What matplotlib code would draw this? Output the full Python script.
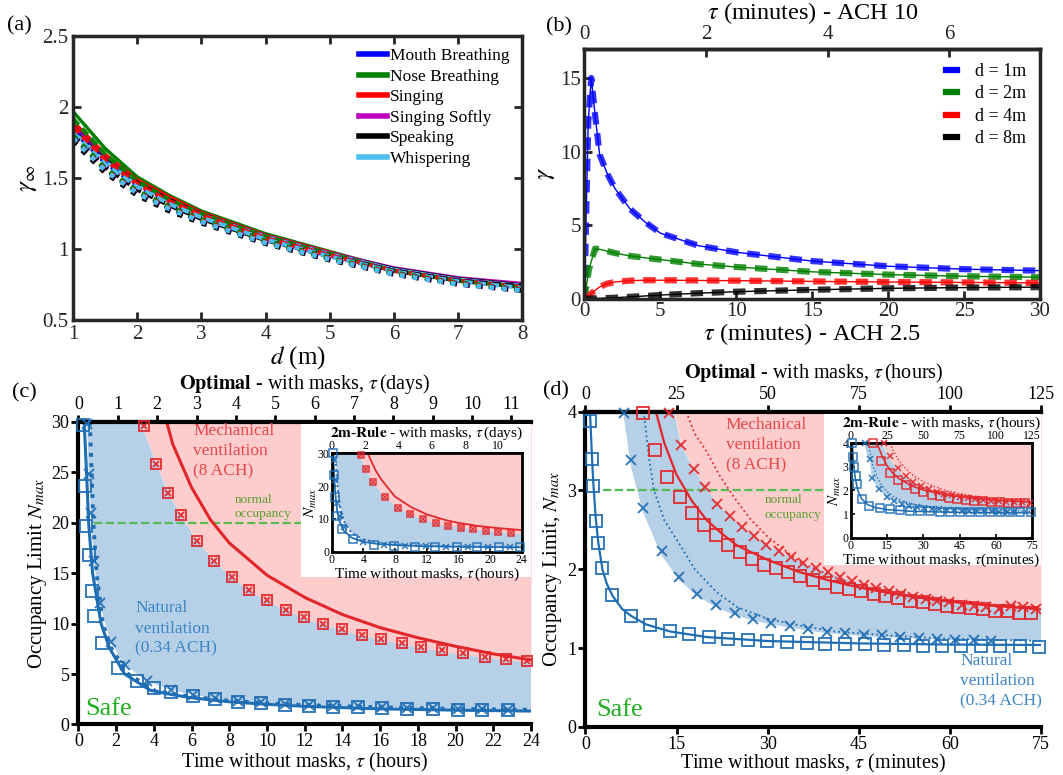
import matplotlib.pyplot as plt
import numpy as np
from matplotlib.lines import Line2D
from matplotlib.patches import Rectangle
from matplotlib.ticker import FormatStrFormatter

plt.rcParams['font.family'] = 'serif'
plt.rcParams['font.serif'] = ['Liberation Serif', 'DejaVu Serif']
plt.rcParams['mathtext.fontset'] = 'stix'

# ---------------- (a) gamma_inf vs distance
dist_m = [1, 1.5, 2, 2.5, 3, 4, 5, 6, 7, 8]
activities = ['Mouth Breathing', 'Nose Breathing', 'Singing', 'Singing Softly', 'Speaking', 'Whispering']
act_colors = ['#0000ff', '#008000', '#ff0000', '#bf00bf', '#000000', '#4dbeee']
mouth_solid = [1.87, 1.65, 1.48, 1.36, 1.26, 1.10, 0.975, 0.865, 0.795, 0.755]
mouth_dash = [1.84, 1.61, 1.45, 1.33, 1.23, 1.075, 0.955, 0.85, 0.78, 0.735]
mouth_dot = [1.79, 1.565, 1.405, 1.29, 1.20, 1.05, 0.935, 0.83, 0.76, 0.715]
nose_solid = [1.97, 1.71, 1.51, 1.38, 1.27, 1.11, 0.985, 0.86, 0.79, 0.745]
nose_dash = [1.92, 1.67, 1.48, 1.35, 1.25, 1.09, 0.97, 0.85, 0.78, 0.735]
nose_dot = [1.80, 1.57, 1.41, 1.30, 1.21, 1.06, 0.94, 0.835, 0.765, 0.72]
sing_solid = [1.90, 1.67, 1.49, 1.37, 1.26, 1.10, 0.98, 0.86, 0.79, 0.75]
sing_dash = [1.86, 1.63, 1.46, 1.34, 1.24, 1.08, 0.96, 0.85, 0.78, 0.735]
sing_dot = [1.78, 1.56, 1.40, 1.29, 1.20, 1.05, 0.935, 0.83, 0.76, 0.715]
soft_solid = [1.85, 1.64, 1.47, 1.35, 1.25, 1.095, 0.975, 0.87, 0.80, 0.76]
soft_dash = [1.81, 1.59, 1.43, 1.31, 1.22, 1.07, 0.955, 0.85, 0.785, 0.74]
soft_dot = [1.76, 1.545, 1.385, 1.275, 1.19, 1.045, 0.93, 0.825, 0.755, 0.71]
speak_solid = [1.84, 1.63, 1.47, 1.35, 1.25, 1.09, 0.97, 0.865, 0.795, 0.75]
speak_dash = [1.80, 1.58, 1.42, 1.31, 1.215, 1.065, 0.95, 0.85, 0.78, 0.74]
speak_dot = [1.76, 1.54, 1.38, 1.27, 1.185, 1.04, 0.925, 0.825, 0.755, 0.71]
whisper_solid = [1.83, 1.62, 1.46, 1.34, 1.245, 1.09, 0.97, 0.86, 0.79, 0.745]
whisper_dash = [1.82, 1.60, 1.44, 1.32, 1.225, 1.07, 0.95, 0.845, 0.775, 0.73]
whisper_dot = [1.78, 1.555, 1.395, 1.285, 1.195, 1.045, 0.93, 0.825, 0.755, 0.71]

# ---------------- (b) gamma vs time
b_labels = ['d = 1m', 'd = 2m', 'd = 4m', 'd = 8m']
b_colors = ['#0000ff', '#008000', '#ff0000', '#000000']
b_t_1m = [0, 0.1, 0.25, 0.45, 0.7, 1, 1.5, 2, 3, 4, 5, 7.5, 10, 15, 20, 25, 30]
b_g_1m = [0, 5, 12, 15.0, 12.5, 9.8, 8.5, 7.5, 6.1, 5.2, 4.45, 3.6, 3.15, 2.55, 2.2, 2.0, 1.9]
b_t_2m = [0, 0.3, 0.7, 1, 2, 3, 5, 7.5, 10, 15, 20, 25, 30]
b_g_2m = [0, 2.0, 3.4, 3.35, 3.1, 2.9, 2.65, 2.35, 2.15, 1.82, 1.63, 1.52, 1.45]
b_t_4m = [0, 0.2, 0.5, 1, 1.5, 2, 3, 4, 5, 10, 15, 20, 25, 30]
b_g_4m = [0, 0.1, 0.4, 0.8, 1.02, 1.13, 1.22, 1.25, 1.25, 1.22, 1.17, 1.13, 1.1, 1.07]
b_t_8m = [0, 1, 2, 3, 5, 7.5, 10, 15, 20, 25, 30]
b_g_8m = [0, 0.02, 0.06, 0.12, 0.24, 0.37, 0.47, 0.6, 0.7, 0.75, 0.78]

# ---------------- (c) occupancy limit, hours
c_red_t = [3.46, 4.09, 4.75, 5.43, 6.29, 7.19, 8.12, 9.05, 10.0, 10.99, 11.98, 12.96, 13.98, 15.02,
           16.06, 17.14, 18.16, 19.29, 20.40, 21.57, 22.68, 23.81]
c_red_n = [29.63, 25.88, 23.0, 20.75, 18.17, 16.22, 14.65, 13.37, 12.3, 11.4, 10.63, 9.96, 9.42, 8.88,
           8.48, 8.04, 7.68, 7.34, 7.04, 6.74, 6.5, 6.27]
c_blue_sq_t = [0.22, 0.33, 0.42, 0.54, 0.7, 0.85, 1.26, 2.1, 3.1, 4.0, 4.9, 6.06, 7.22, 8.48, 9.69,
               10.94, 12.2, 13.5, 14.8, 16.1, 17.4, 18.8, 20.1, 21.4, 22.8]
c_blue_sq_n = [29.7, 23.7, 19.7, 16.8, 13.2, 10.8, 8.1, 5.6, 4.3, 3.6, 3.2, 2.8, 2.5, 2.25, 2.1,
               1.95, 1.85, 1.75, 1.7, 1.62, 1.58, 1.52, 1.47, 1.43, 1.4]
c_blue_x_t = [0.45, 0.55, 0.66, 0.82, 1.12, 1.7, 2.45, 3.65, 4.9, 6.06, 7.22, 8.48, 9.69, 10.94,
              12.2, 13.5, 14.8, 16.1, 17.4, 18.8, 20.1, 21.4, 22.8]
c_blue_x_n = [29.8, 24.8, 21.0, 16.2, 12.0, 8.2, 5.9, 4.3, 3.4, 2.95, 2.6, 2.35, 2.2, 2.0,
              1.9, 1.85, 1.8, 1.7, 1.65, 1.6, 1.55, 1.5, 1.45]
c_red_line_t = [4.68, 5, 6, 7, 8, 10, 12, 14, 16, 18, 20, 22, 24]
c_red_line_n = [30, 27.8, 23.5, 20.3, 18, 14.8, 12.6, 10.9, 9.6, 8.6, 7.75, 7.0, 6.4]
c_blue_line_t = [0.3, 0.43, 0.54, 0.75, 1.2, 1.64, 2.45, 3.8, 5, 6, 8, 10, 12, 16, 20, 24]
c_blue_line_n = [30, 25, 20, 15, 10, 7.6, 5.0, 3.4, 2.95, 2.65, 2.25, 2.0, 1.8, 1.55, 1.42, 1.33]
c_blue_dot_t = [0.6, 0.7, 0.79, 0.96, 1.29, 1.73, 2.63, 4.1, 6, 8, 10, 12, 16, 20, 24]
c_blue_dot_n = [30, 25, 20, 15, 10, 7.6, 5.0, 3.3, 2.75, 2.35, 2.1, 1.92, 1.7, 1.55, 1.45]
c_fill_up_t = [3.3, 4.1, 4.75, 5.5, 6.3, 7.2, 8.1, 9.05, 10, 11, 12, 13, 14, 15, 16, 17, 18, 19,
               20, 21, 22, 23, 24]
c_fill_up_n = [30, 26, 23, 20.5, 18.2, 16.2, 14.6, 13.3, 12.2, 11.3, 10.5, 9.85, 9.3, 8.8, 8.4, 8.0,
               7.6, 7.3, 7.0, 6.75, 6.5, 6.3, 6.1]
c_fill_lo_t = [0.45, 0.55, 0.66, 0.82, 1.12, 1.7, 2.45, 3.65, 4.9, 6.06, 7.22, 8.48, 9.69, 10.94,
               12.2, 14.8, 17.4, 20.1, 22.8, 24]
c_fill_lo_n = [30, 24.8, 21.0, 16.2, 12.0, 8.2, 5.9, 4.3, 3.4, 2.95, 2.6, 2.35, 2.2, 2.05,
               1.95, 1.8, 1.65, 1.55, 1.45, 1.42]

# (c) inset, 2m rule
ci_red_t = [3.66, 4.29, 5.18, 6.73, 8.37, 9.93, 11.49, 13.13, 14.68, 16.29, 17.88, 19.45, 21.04, 22.6]
ci_red_n = [29.5, 25.1, 21.2, 16.6, 13.4, 11.4, 9.9, 8.65, 7.85, 7.3, 6.8, 6.4, 6.0, 5.6]
ci_red_line_t = [4.55, 5.5, 6.3, 8, 10.1, 12, 14.3, 16, 18.5, 21, 24]
ci_red_line_n = [30, 25, 21.9, 16.8, 13.5, 11.4, 9.7, 8.8, 7.85, 7.2, 6.6]
ci_blue_sq_t = [0.13, 0.25, 0.42, 0.63, 1.26, 2.74, 5.35, 7.9, 10.5, 13.1, 15.8, 18.4, 21.1, 23.8]
ci_blue_sq_n = [30, 23.4, 16.6, 11.0, 6.9, 3.76, 2.03, 1.73, 1.53, 1.53, 1.42, 1.42, 1.32, 1.32]
ci_blue_x_t = [0.3, 0.45, 0.7, 1.0, 1.6, 4.0, 6.6, 9.25, 11.9, 14.5, 17.2, 19.8, 22.5]
ci_blue_x_n = [28, 22, 15, 11, 7.5, 2.9, 2.1, 1.8, 1.65, 1.55, 1.5, 1.45, 1.4]
ci_blue_line_t = [0.2, 0.3, 0.45, 0.7, 1.0, 1.5, 2.5, 4, 6, 9, 12, 16, 20, 24]
ci_blue_line_n = [30, 24, 18, 12.5, 9.2, 6.5, 4.3, 3.0, 2.3, 1.9, 1.65, 1.5, 1.4, 1.33]
ci_blue_dot_t = [0.45, 0.6, 0.8, 1.1, 1.6, 2.5, 4, 6, 9, 12, 16, 20, 24]
ci_blue_dot_n = [30, 24, 18, 13, 9, 5.8, 3.7, 2.7, 2.1, 1.85, 1.65, 1.52, 1.45]
ci_fill_up_t = [3.5, 4.3, 5.2, 6.7, 8.4, 9.9, 11.5, 13.1, 14.7, 16.3, 17.9, 19.5, 21, 22.6, 24]
ci_fill_up_n = [30, 25.1, 21.2, 16.6, 13.4, 11.4, 9.9, 8.65, 7.85, 7.3, 6.8, 6.4, 6.0, 5.6, 5.3]
ci_fill_lo_t = [0.5, 0.7, 1.0, 1.6, 2.6, 4.0, 6.6, 9.25, 11.9, 14.5, 17.2, 19.8, 22.5, 24]
ci_fill_lo_n = [30, 20, 14, 9.0, 5.5, 3.6, 2.5, 2.0, 1.8, 1.65, 1.55, 1.5, 1.45, 1.42]

# ---------------- (d) occupancy limit, minutes
d_blue_sq_t = [0.84, 1.12, 1.23, 1.67, 2.06, 2.73, 4.41, 7.53, 10.7, 13.9, 17.1, 20.35, 23.5, 26.7,
               29.9, 33.2, 36.4, 39.5, 42.8, 46.0, 49.2, 52.4, 55.5, 58.7, 61.8, 65.1, 68.3, 71.5, 74.6]
d_blue_sq_n = [3.875, 3.4, 3.06, 2.61, 2.33, 2.01, 1.675, 1.41, 1.29, 1.217, 1.175, 1.14, 1.117, 1.1,
               1.09, 1.075, 1.067, 1.058, 1.05, 1.05, 1.042, 1.042, 1.033, 1.033, 1.033, 1.03, 1.03, 1.03, 1.02]
d_blue_x_t = [6.4, 7.5, 9.52, 12.53, 15.48, 18.4, 21.5, 24.55, 27.6, 30.6, 33.7, 36.7, 39.8, 42.75,
              45.8, 48.8, 51.8, 54.9, 57.8, 60.85, 63.9, 66.7]
d_blue_x_n = [3.98, 3.38, 2.78, 2.23, 1.9, 1.69, 1.55, 1.45, 1.375, 1.32, 1.28, 1.24, 1.21, 1.19,
              1.165, 1.16, 1.14, 1.13, 1.12, 1.105, 1.1, 1.09]
d_red_sq_t = [9.5, 11.5, 13.5, 15.5, 17.5, 19.5, 21.5, 23.4, 25.5, 27.4, 29.4, 31.35, 33.4, 35.4, 37.5,
              39.5, 41.4, 43.4, 45.4, 47.5, 49.4, 51.5, 53.4, 55.5, 57.5, 59.5, 61.4, 63.5, 65.4, 67.4,
              69.5, 71.4, 73.4]
d_red_sq_n = [3.98, 3.51, 3.17, 2.92, 2.72, 2.56, 2.43, 2.31, 2.22, 2.13, 2.06, 2.01, 1.96, 1.91, 1.87,
              1.83, 1.78, 1.75, 1.72, 1.69, 1.66, 1.63, 1.60, 1.58, 1.56, 1.54, 1.52, 1.51, 1.49, 1.475,
              1.47, 1.45, 1.44]
d_red_x_t = [13.7, 15.75, 17.8, 19.75, 21.7, 23.8, 25.8, 27.8, 29.8, 31.8, 33.9, 35.8, 37.9, 39.9, 41.9,
             43.9, 45.9, 47.9, 49.9, 51.9, 53.9, 56.0, 57.95, 59.9, 61.97, 64.0, 66.0, 68.1, 70.1, 72.1, 74.1]
d_red_x_n = [3.98, 3.58, 3.27, 3.04, 2.83, 2.67, 2.53, 2.42, 2.31, 2.23, 2.15, 2.08, 2.01, 1.96, 1.9,
             1.85, 1.8, 1.76, 1.72, 1.69, 1.65, 1.62, 1.60, 1.58, 1.55, 1.53, 1.52, 1.5, 1.53, 1.52, 1.5]
d_red_line_t = [11.6, 13, 15, 17.5, 20, 22.5, 25, 30, 35, 40, 45, 50, 55, 60, 65, 70, 75]
d_red_line_n = [4.0, 3.6, 3.2, 2.87, 2.62, 2.45, 2.3, 2.12, 1.97, 1.86, 1.77, 1.7, 1.64, 1.59, 1.55, 1.52, 1.49]
d_red_dot_t = [16.6, 18, 19.9, 22, 24.4, 27, 29.9, 35.5, 41, 46.6, 52, 57.8, 66, 75]
d_red_dot_n = [4.0, 3.72, 3.5, 3.2, 2.92, 2.65, 2.42, 2.08, 1.9, 1.75, 1.67, 1.6, 1.55, 1.52]
d_blue_line_t = [0.75, 0.9, 1.1, 1.3, 1.7, 2.1, 2.8, 3.5, 4.5, 6, 7.5, 10, 14, 20, 30, 45, 60, 75]
d_blue_line_n = [4.0, 3.75, 3.4, 3.1, 2.65, 2.35, 2.0, 1.82, 1.66, 1.5, 1.41, 1.3, 1.21, 1.14, 1.09, 1.06, 1.045, 1.04]
d_blue_dot_t = [9.6, 10.4, 11.3, 13, 15.4, 18, 21.6, 25, 29.9, 35, 41.1, 50, 57.8, 65, 75]
d_blue_dot_n = [4.0, 3.45, 3.0, 2.62, 2.33, 2.0, 1.71, 1.52, 1.375, 1.29, 1.21, 1.16, 1.125, 1.11, 1.09]
d_fill_lo_t = [6.2, 7.5, 9.5, 12.5, 15.5, 18.4, 21.5, 24.5, 27.6, 30.6, 33.7, 36.7, 39.8, 42.8, 45.8,
               48.8, 51.8, 54.9, 57.8, 60.9, 63.9, 66.7, 70, 75]
d_fill_lo_n = [4.0, 3.3, 2.72, 2.18, 1.86, 1.66, 1.52, 1.42, 1.35, 1.3, 1.26, 1.22, 1.19, 1.17, 1.15,
               1.14, 1.13, 1.12, 1.11, 1.1, 1.1, 1.1, 1.1, 1.1]
d_fill_up_t = [14.6, 15.75, 17.8, 19.75, 21.7, 23.8, 25.8, 27.8, 29.8, 31.8, 33.9, 35.8, 37.9, 39.9, 41.9,
               43.9, 45.9, 47.9, 49.9, 51.9, 53.9, 56, 58, 60, 62, 64, 66, 68, 70, 72, 75]
d_fill_up_n = [4.0, 3.58, 3.27, 3.04, 2.83, 2.67, 2.53, 2.42, 2.31, 2.23, 2.15, 2.08, 2.01, 1.96, 1.9,
               1.85, 1.8, 1.76, 1.72, 1.69, 1.65, 1.62, 1.6, 1.58, 1.55, 1.53, 1.52, 1.5, 1.5, 1.5, 1.5]

# (d) inset, 2m rule
di_blue_sq_t = [0.55, 1.0, 1.4, 2.1, 2.6, 4.5, 7.6, 12.0, 16.1, 20.3, 24.4, 28.5, 32.6, 36.8, 40.9,
                45.0, 49.2, 53.3, 57.4, 61.5, 65.7, 69.8, 74.4]
di_blue_sq_n = [4.0, 3.4, 3.0, 2.62, 2.28, 1.65, 1.35, 1.25, 1.2, 1.17, 1.15, 1.13, 1.12, 1.11, 1.1,
                1.1, 1.09, 1.09, 1.08, 1.08, 1.08, 1.07, 1.07]
di_blue_x_t = [6.1, 7.9, 8.8, 11.7, 14.8, 17.9, 21.0, 24.2, 27.3, 30.4, 33.5, 36.6, 39.7, 42.8, 45.9,
               49.0, 52.1, 55.2, 58.3, 61.4, 64.5, 67.6]
di_blue_x_n = [4.0, 3.32, 2.52, 2.05, 1.74, 1.55, 1.43, 1.35, 1.29, 1.25, 1.22, 1.2, 1.18, 1.16, 1.15,
               1.14, 1.13, 1.12, 1.12, 1.11, 1.1, 1.1]
di_red_sq_t = [9.0, 12.4, 16.1, 19.6, 23.0, 26.5, 30.0, 33.5, 37.0, 40.5, 44.0, 47.5, 51.0, 54.5, 58.0,
               61.5, 65.0, 68.5, 72.0]
di_red_sq_n = [4.0, 3.25, 2.76, 2.45, 2.23, 2.05, 1.93, 1.83, 1.75, 1.69, 1.64, 1.6, 1.57, 1.54, 1.52,
               1.5, 1.48, 1.46, 1.45]
di_red_x_t = [13.8, 16.3, 19.5, 22.7, 25.9, 29.1, 32.3, 35.5, 38.7, 41.9, 45.1, 48.3, 51.5, 54.7, 57.9,
              61.1, 64.3, 67.5, 70.7, 73.9]
di_red_x_n = [4.0, 3.45, 2.95, 2.6, 2.38, 2.2, 2.06, 1.95, 1.86, 1.79, 1.73, 1.68, 1.64, 1.6, 1.57,
              1.55, 1.53, 1.51, 1.5, 1.49]
di_red_line_t = [10.9, 13, 15, 17.5, 20, 25, 30, 40, 50, 60, 75]
di_red_line_n = [4.0, 3.45, 3.05, 2.72, 2.5, 2.2, 2.02, 1.8, 1.67, 1.58, 1.5]
di_red_dot_t = [16.1, 18, 20, 23, 26, 30, 35, 40, 50, 60, 75]
di_red_dot_n = [4.0, 3.6, 3.25, 2.9, 2.62, 2.38, 2.15, 1.98, 1.78, 1.65, 1.53]
di_blue_line_t = [0.7, 1.0, 1.4, 2.0, 3.0, 4.5, 7, 10, 15, 25, 40, 60, 75]
di_blue_line_n = [4.0, 3.4, 2.9, 2.45, 1.98, 1.65, 1.4, 1.28, 1.19, 1.12, 1.08, 1.06, 1.05]
di_blue_dot_t = [7.2, 9, 11, 13, 15, 18, 22, 28, 35, 45, 60, 75]
di_blue_dot_n = [4.0, 3.1, 2.55, 2.2, 1.95, 1.72, 1.52, 1.37, 1.27, 1.2, 1.14, 1.11]
di_fill_lo_t = [5.6, 6.5, 7.9, 8.8, 11.7, 14.8, 17.9, 21.0, 24.2, 30.4, 36.6, 42.8, 49.0, 55.2, 61.4, 67.6, 75]
di_fill_lo_n = [4.0, 3.6, 3.2, 2.5, 2.02, 1.72, 1.53, 1.42, 1.34, 1.25, 1.2, 1.16, 1.14, 1.12, 1.11, 1.1, 1.1]
di_fill_up_t = [13.0, 14.5, 16.3, 19.5, 22.7, 25.9, 29.1, 32.3, 35.5, 38.7, 41.9, 45.1, 48.3, 51.5, 54.7,
                57.9, 61.1, 64.3, 67.5, 70.7, 75]
di_fill_up_n = [4.0, 3.65, 3.3, 2.85, 2.55, 2.33, 2.16, 2.03, 1.93, 1.85, 1.78, 1.72, 1.67, 1.63, 1.6,
                1.57, 1.55, 1.53, 1.51, 1.5, 1.48]

RED = '#e3262b'
BLUE = '#1f6db3'
PINK = '#fdcdcd'
LBLUE = '#b5d0e7'
MECH_TXT = '#e8474a'
NAT_TXT = '#3d85c6'
OCC_TXT = '#5a9e2e'
SAFE_TXT = '#22b022'
SPINE = '#262626'

fig = plt.figure(figsize=(10.63, 7.75), dpi=100)
ax_a = fig.add_axes([0.0687, 0.5865, 0.4225, 0.3668])
ax_b = fig.add_axes([0.5498, 0.6147, 0.4288, 0.3226])
ax_c = fig.add_axes([0.0738, 0.0652, 0.4258, 0.3903])
ax_d = fig.add_axes([0.5507, 0.062, 0.4286, 0.4069])
ax_ci = fig.add_axes([0.312, 0.2881, 0.1788, 0.127])
ax_di = fig.add_axes([0.8003, 0.3062, 0.1708, 0.1218])

# ---- (a)
series_a = [(mouth_solid, mouth_dash, mouth_dot), (nose_solid, nose_dash, nose_dot),
            (sing_solid, sing_dash, sing_dot), (soft_solid, soft_dash, soft_dot),
            (speak_solid, speak_dash, speak_dot), (whisper_solid, whisper_dash, whisper_dot)]
for (s, da, do), col in zip(series_a, act_colors):
    ax_a.plot(dist_m, s, '-', color=col, lw=2.5)
for (s, da, do), col in zip(series_a, act_colors):
    ax_a.plot(dist_m, da, '--', color=col, lw=3, dashes=(2, 1.2))
for (s, da, do), col in zip(series_a, act_colors):
    ax_a.plot(dist_m, do, ':', color=col, lw=3.5)
ax_a.set_xlim(1, 8)
ax_a.set_ylim(0.5, 2.5)
ax_a.set_xticks(range(1, 9))
ax_a.set_yticks([0.5, 1, 1.5, 2, 2.5])
ax_a.yaxis.set_major_formatter(FormatStrFormatter('%g'))
ax_a.tick_params(direction='in', top=True, right=True, length=6, width=2, labelsize=15, colors=SPINE)
ax_a.set_xlabel(r'$d$ (m)', fontsize=18, labelpad=0)
ax_a.set_ylabel(r'$\gamma_\infty$', fontsize=18, labelpad=2)
for sp in ax_a.spines.values():
    sp.set_linewidth(2.5)
    sp.set_color(SPINE)
handles = [Line2D([], [], color=c, lw=4) for c in act_colors]
ax_a.legend(handles, activities, loc='upper right', frameon=False, fontsize=12.5,
            handlelength=1.6, handletextpad=0.2, labelspacing=0.25, borderaxespad=0.3)

# ---- (b)
series_b = [(b_t_1m, b_g_1m), (b_t_2m, b_g_2m), (b_t_4m, b_g_4m), (b_t_8m, b_g_8m)]
for (t, g), col in zip(series_b, b_colors):
    ax_b.plot(t, g, '-', color=col, lw=1)
    ax_b.plot(t, g, '--', color=col, lw=4.5, alpha=0.8, dashes=(2, 1.4))
ax_b.set_xlim(0, 30)
ax_b.set_ylim(0, 17)
ax_b.set_xticks(range(0, 31, 5))
ax_b.set_yticks([0, 5, 10, 15])
ax_b.tick_params(direction='in', length=6, width=2, labelsize=15, pad=2.5, colors=SPINE)
ax_b.set_xlabel(r'$\tau$ (minutes) - ACH 2.5', fontsize=17.5, labelpad=0)
ax_b.set_ylabel(r'$\gamma$', fontsize=18, labelpad=2)
for sp in ax_b.spines.values():
    sp.set_linewidth(2.5)
    sp.set_color(SPINE)
sec_b = ax_b.secondary_xaxis('top', functions=(lambda x: x / 4, lambda x: x * 4))
sec_b.set_xticks([0, 2, 4, 6])
sec_b.tick_params(direction='in', length=6, width=2, labelsize=15, colors=SPINE)
sec_b.spines['top'].set_linewidth(2.5)
sec_b.set_xlabel(r'$\tau$ (minutes) - ACH 10', fontsize=17.5, labelpad=4)
handles = [Line2D([], [], color=c, lw=4.5, ls='-') for c in b_colors]
ax_b.legend(handles, b_labels, loc='upper right', frameon=False, fontsize=13,
            handlelength=0.6, handletextpad=1.0, labelspacing=0.3, borderaxespad=0.4)


def occupancy_panel(ax, fills, lines, marks, lw_scale=1.0, ms_scale=1.0):
    (lo_t, lo_n), (up_t, up_n) = fills
    ytop = ax.get_ylim()[1]
    ax.fill_between(up_t, up_n, ytop, color=PINK, lw=0, zorder=0.5)
    ax.fill(np.concatenate([lo_t, up_t[::-1]]), np.concatenate([lo_n, up_n[::-1]]),
            color=LBLUE, lw=0, zorder=0.6)
    for t, n, col, ls, lw in lines:
        ax.plot(t, n, color=col, ls=ls, lw=lw * lw_scale, zorder=2)
    for t, n, col, mk, ms in marks:
        ax.plot(t, n, ls='none', marker=mk, color=col, mfc='none', ms=ms * ms_scale,
                mew=1.4 * lw_scale, alpha=0.9, clip_on=False, zorder=3)


def style_main(ax, sec, size):
    ax.tick_params(direction='out', length=5, width=2, labelsize=size, pad=1.5, top=False)
    sec.tick_params(direction='out', length=5, width=2, labelsize=size, pad=1.5)
    for k in ['left', 'bottom', 'top']:
        ax.spines[k].set_linewidth(3)
        ax.spines[k].set_color('black')
    ax.spines['right'].set_visible(False)
    sec.spines['top'].set_linewidth(3)


def style_inset(ax, sec):
    ax.set_facecolor('none')
    ax.tick_params(direction='in', length=3, width=1.2, labelsize=8.5, pad=1.5, top=False)
    sec.tick_params(direction='in', length=3, width=1.2, labelsize=8.5, pad=1)
    for sp in ax.spines.values():
        sp.set_linewidth(2)
        sp.set_color('black')
    sec.spines['top'].set_linewidth(2)


# ---- (c)
ax_c.set_xlim(0, 24)
ax_c.set_ylim(0, 30)
occupancy_panel(ax_c,
                ((np.array(c_fill_lo_t), np.array(c_fill_lo_n)), (np.array(c_fill_up_t), np.array(c_fill_up_n))),
                [(c_red_line_t, c_red_line_n, RED, '-', 2.2),
                 (c_blue_line_t, c_blue_line_n, BLUE, '-', 2.2),
                 (c_blue_dot_t, c_blue_dot_n, BLUE, ':', 2.8)],
                [(c_red_t, c_red_n, RED, 's', 7.5), (c_red_t, c_red_n, RED, 'x', 5),
                 (c_blue_sq_t, c_blue_sq_n, BLUE, 's', 8), (c_blue_x_t, c_blue_x_n, BLUE, 'x', 7)])
ax_c.hlines(20, 0.8, 11.8, colors='#55bb55', linestyles='--', lw=1.6, zorder=1.5)
ax_c.add_patch(Rectangle((0.492, 0.4876), 0.508, 0.505, transform=ax_c.transAxes,
                         facecolor='white', edgecolor='none', zorder=5))
ax_c.text(6.1, 29.9, 'Mechanical\nventilation\n(8 ACH)', color=MECH_TXT, fontsize=12.5,
          va='top', ha='left', linespacing=1.35, zorder=4)
ax_c.text(3.0, 12.3, 'Natural\nventilation\n(0.34 ACH)', color=NAT_TXT, fontsize=12.5,
          va='top', ha='left', linespacing=1.35, zorder=4)
ax_c.text(8.27, 22.9, 'normal\noccupancy', color=OCC_TXT, fontsize=9.5, va='top', ha='left',
          linespacing=1.3, zorder=4)
ax_c.text(0.38, 0.9, 'Safe', color=SAFE_TXT, fontsize=19, va='baseline', ha='left', zorder=4)
ax_c.set_xticks(range(0, 25, 2))
ax_c.set_yticks(range(0, 31, 5))
sec_c = ax_c.secondary_xaxis('top', functions=(lambda h: h * 11.5 / 24, lambda d: d * 24 / 11.5))
sec_c.set_xticks(range(0, 12))
style_main(ax_c, sec_c, 13)
ax_c.set_xlabel(r'Time without masks, $\tau$ (hours)', fontsize=14.5, labelpad=0)
ax_c.set_ylabel(r'Occupancy Limit $N_{max}$', fontsize=15, labelpad=2)
sec_c.set_xlabel(r'$\mathbf{Optimal}$ - with masks, $\tau\,$(days)', fontsize=14.5, labelpad=5)

# (c) inset
ax_ci.set_xlim(0, 24)
ax_ci.set_ylim(0, 30)
occupancy_panel(ax_ci,
                ((np.array(ci_fill_lo_t), np.array(ci_fill_lo_n)), (np.array(ci_fill_up_t), np.array(ci_fill_up_n))),
                [(ci_red_line_t, ci_red_line_n, RED, '-', 1.6),
                 (ci_blue_line_t, ci_blue_line_n, BLUE, '-', 1.6),
                 (ci_blue_dot_t, ci_blue_dot_n, BLUE, ':', 1.8)],
                [(ci_red_t, ci_red_n, RED, 's', 5), (ci_red_t, ci_red_n, RED, 'x', 3.5),
                 (ci_blue_sq_t, ci_blue_sq_n, BLUE, 's', 5.5), (ci_blue_x_t, ci_blue_x_n, BLUE, 'x', 5)],
                lw_scale=0.8)
ax_ci.set_xticks(range(0, 25, 4))
ax_ci.set_yticks([0, 10, 20, 30])
sec_ci = ax_ci.secondary_xaxis('top', functions=(lambda h: h * 11.4 / 24, lambda d: d * 24 / 11.4))
sec_ci.set_xticks(range(0, 11, 2))
style_inset(ax_ci, sec_ci)
ax_ci.set_xlabel(r'Time without masks, $\tau\,$(hours)', fontsize=11, labelpad=0)
ax_ci.set_ylabel(r'$N_{max}$', fontsize=11, labelpad=-1)
sec_ci.set_xlabel(r'$\mathbf{2m}$-$\mathbf{Rule}$ - with masks, $\tau\,$(days)', fontsize=11, labelpad=2.5)

# ---- (d)
ax_d.set_xlim(0, 75)
ax_d.set_ylim(0, 4)
occupancy_panel(ax_d,
                ((np.array(d_fill_lo_t), np.array(d_fill_lo_n)), (np.array(d_fill_up_t), np.array(d_fill_up_n))),
                [(d_red_line_t, d_red_line_n, RED, '-', 1.6),
                 (d_red_dot_t, d_red_dot_n, RED, ':', 1.3),
                 (d_blue_line_t, d_blue_line_n, BLUE, '-', 1.6),
                 (d_blue_dot_t, d_blue_dot_n, BLUE, ':', 1.3)],
                [(d_red_sq_t, d_red_sq_n, RED, 's', 9), (d_red_x_t, d_red_x_n, RED, 'x', 7),
                 (d_blue_sq_t, d_blue_sq_n, BLUE, 's', 9), (d_blue_x_t, d_blue_x_n, BLUE, 'x', 7)])
ax_d.hlines(3, 2.9, 39.3, colors='#55bb55', linestyles='--', lw=1.6, zorder=1.5)
ax_d.add_patch(Rectangle((0.5237, 0.514), 0.4763, 0.479, transform=ax_d.transAxes,
                         facecolor='white', edgecolor='none', zorder=5))
ax_d.text(23.1, 3.93, 'Mechanical\nventilation\n(8 ACH)', color=MECH_TXT, fontsize=12.5,
          va='top', ha='left', linespacing=1.35, zorder=4)
ax_d.text(29.5, 2.95, 'normal\noccupancy', color=OCC_TXT, fontsize=9.5, va='top', ha='left',
          linespacing=1.3, zorder=4)
ax_d.text(61.7, 0.94, 'Natural\nventilation\n(0.34 ACH)', color=NAT_TXT, fontsize=12.5,
          va='top', ha='left', linespacing=1.35, zorder=4)
ax_d.text(1.8, 0.14, 'Safe', color=SAFE_TXT, fontsize=19, va='baseline', ha='left', zorder=4)
ax_d.set_xticks(range(0, 76, 15))
ax_d.set_yticks(range(0, 5))
sec_d = ax_d.secondary_xaxis('top', functions=(lambda m: m * 125 / 75, lambda h: h * 75 / 125))
sec_d.set_xticks(range(0, 126, 25))
style_main(ax_d, sec_d, 13)
ax_d.set_xlabel(r'Time without masks, $\tau$ (minutes)', fontsize=14.5, labelpad=-1)
ax_d.set_ylabel(r'Occupancy Limit, $N_{max}$', fontsize=15, labelpad=2)
sec_d.set_xlabel(r'$\mathbf{Optimal}$ - with masks, $\tau\,$(hours)', fontsize=14.5, labelpad=5)

# (d) inset
ax_di.set_xlim(0, 75)
ax_di.set_ylim(0, 4)
occupancy_panel(ax_di,
                ((np.array(di_fill_lo_t), np.array(di_fill_lo_n)), (np.array(di_fill_up_t), np.array(di_fill_up_n))),
                [(di_red_line_t, di_red_line_n, RED, '-', 1.4),
                 (di_red_dot_t, di_red_dot_n, RED, ':', 1.2),
                 (di_blue_line_t, di_blue_line_n, BLUE, '-', 1.4),
                 (di_blue_dot_t, di_blue_dot_n, BLUE, ':', 1.2)],
                [(di_red_sq_t, di_red_sq_n, RED, 's', 5.5), (di_red_x_t, di_red_x_n, RED, 'x', 4.5),
                 (di_blue_sq_t, di_blue_sq_n, BLUE, 's', 5.5), (di_blue_x_t, di_blue_x_n, BLUE, 'x', 4.5)],
                lw_scale=0.8)
ax_di.set_xticks(range(0, 76, 15))
ax_di.set_yticks(range(0, 5))
sec_di = ax_di.secondary_xaxis('top', functions=(lambda m: m * 125 / 75, lambda h: h * 75 / 125))
sec_di.set_xticks(range(0, 126, 25))
style_inset(ax_di, sec_di)
ax_di.set_xlabel(r'Time without masks, $\tau$(minutes)', fontsize=11, labelpad=0)
ax_di.set_ylabel(r'$N_{max}$', fontsize=11, labelpad=0)
sec_di.set_xlabel(r'$\mathbf{2m}$-$\mathbf{Rule}$ - with masks, $\tau\,$(hours)', fontsize=11, labelpad=2.5)

for lab, x, y in [('(a)', 0.018, 0.966), ('(b)', 0.526, 0.965), ('(c)', 0.0226, 0.493), ('(d)', 0.523, 0.496)]:
    fig.text(x, y, lab, fontsize=16, ha='center', va='center')

fig.savefig('out.png', dpi=100)
